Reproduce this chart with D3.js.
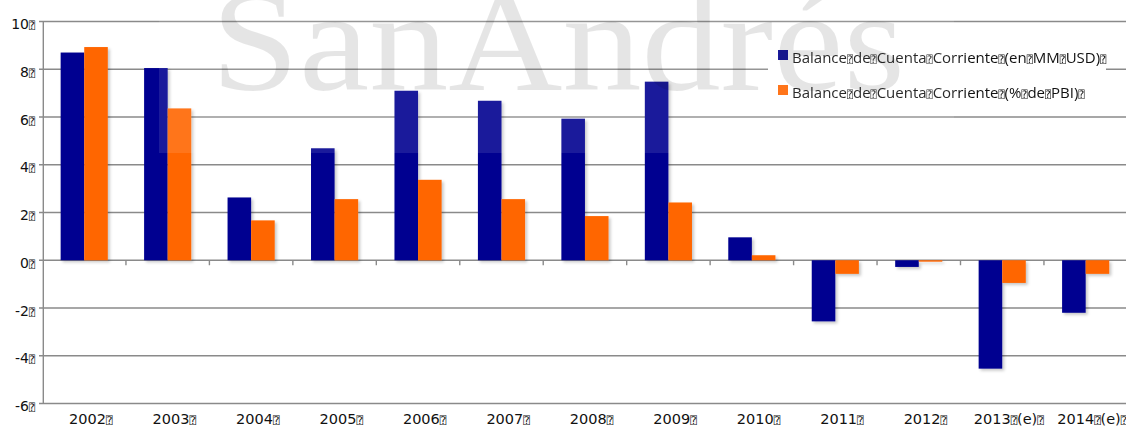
<!DOCTYPE html>
<html>
<head>
<meta charset="utf-8">
<script src="https://cdn.jsdelivr.net/npm/d3@7"></script>
<style>
  html, body { margin: 0; padding: 0; background: #fff; }
  svg { display: block; }
</style>
</head>
<body>
<svg id="chart" width="1126" height="437"></svg>
<script>
// Current account balance, Argentina 2002–2014
const categories = ["2002", "2003", "2004", "2005", "2006", "2007", "2008", "2009", "2010", "2011", "2012", "2013 (e)", "2014 (e)"];
const balanceUSD = [8.70, 8.05, 2.63, 4.69, 7.10, 6.68, 5.93, 7.48, 0.96, -2.56, -0.28, -4.54, -2.20];
const balancePBI = [8.93, 6.36, 1.67, 2.56, 3.37, 2.56, 1.85, 2.42, 0.21, -0.57, -0.06, -0.95, -0.57];
const seriesNames = ["Balance de Cuenta Corriente (en MM USD)", "Balance de Cuenta Corriente (% de PBI)"];
const seriesColors = ["#000090", "#ff6600"];
const yTicks = [-6, -4, -2, 0, 2, 4, 6, 8, 10];

const BOX = "\u2370"; // glyph shown in place of the separators

const svg = d3.select("#chart");
const W = 1126, H = 437;

const defs = svg.append("defs");
const sh = defs.append("filter").attr("id", "shadow")
  .attr("x", "-20%").attr("y", "-20%").attr("width", "150%").attr("height", "150%");
sh.append("feDropShadow").attr("dx", 2).attr("dy", 2).attr("stdDeviation", 1.5)
  .attr("flood-color", "#000").attr("flood-opacity", 0.22);

const y = d3.scaleLinear().domain([-6, 10]).range([403.5, 21.5]);
const x0 = d3.scaleBand().domain(categories).range([42.5, 1127.4]).paddingInner(0).paddingOuter(0);
const x1 = d3.scaleBand().domain([0, 1]).range([0, x0.bandwidth()]).paddingInner(0).paddingOuter(0.77);

const gridColor = "#8a8a8a";

// writes a label, swapping each space for the box glyph and adding a trailing one
function boxedText(sel, str, size) {
  const parts = str.split(" ");
  parts.forEach(p => {
    sel.append("tspan").text(p);
    sel.append("tspan").attr("font-size", size).attr("font-family", "DejaVu Sans Mono").text(BOX);
  });
}

// horizontal gridlines
svg.append("g").selectAll("line").data(yTicks).join("line")
  .attr("x1", 39).attr("x2", W)
  .attr("y1", d => y(d)).attr("y2", d => y(d))
  .attr("stroke", gridColor).attr("stroke-width", 1.4);

// y axis line
svg.append("line").attr("x1", 43.3).attr("x2", 43.3)
  .attr("y1", y(10)).attr("y2", y(-6))
  .attr("stroke", gridColor).attr("stroke-width", 1.4);

// category ticks below the zero line
svg.append("g").selectAll("line").data(categories.slice(1)).join("line")
  .attr("x1", d => x0(d)).attr("x2", d => x0(d))
  .attr("y1", y(0)).attr("y2", y(0) + 5)
  .attr("stroke", gridColor).attr("stroke-width", 1.4);

// y tick labels
svg.append("g").selectAll("text").data(yTicks).join("text")
  .attr("x", 35).attr("y", d => y(d) + 7.5)
  .attr("text-anchor", "end")
  .attr("font-family", "DejaVu Sans").attr("font-size", 14).attr("fill", "#111")
  .each(function (d) { boxedText(d3.select(this), String(d), 10); });

// x tick labels
svg.append("g").selectAll("text").data(categories).join("text")
  .attr("x", d => x0(d) + x0.bandwidth() / 2 + 6.5).attr("y", 423.5)
  .attr("text-anchor", "middle")
  .attr("font-family", "DejaVu Sans").attr("font-size", 14.5).attr("fill", "#111")
  .each(function (d) { boxedText(d3.select(this), d, 10.5); });

// bars
const rows = categories.map((c, i) => ({ cat: c, vals: [balanceUSD[i], balancePBI[i]] }));
svg.append("g").attr("filter", "url(#shadow)")
  .selectAll("g").data(rows).join("g")
  .attr("transform", d => `translate(${x0(d.cat)},0)`)
  .selectAll("rect").data(d => d.vals.map((v, k) => ({ v, k }))).join("rect")
  .attr("x", d => x1(d.k))
  .attr("width", x1.bandwidth())
  .attr("y", d => y(Math.max(0, d.v)))
  .attr("height", d => Math.abs(y(d.v) - y(0)))
  .attr("fill", d => seriesColors[d.k]);

// legend
const lg = svg.append("g");
lg.append("rect").attr("x", 768).attr("y", 34).attr("width", 338).attr("height", 74).attr("fill", "#fff");
seriesNames.forEach((name, i) => {
  const yy = 50 + i * 35;
  lg.append("rect").attr("x", 778).attr("y", yy).attr("width", 10).attr("height", 10).attr("fill", seriesColors[i]);
  const t = lg.append("text").attr("x", 792).attr("y", yy + 12.5)
    .attr("font-family", "Open Sans").attr("font-size", 15).attr("fill", "#111");
  boxedText(t, name, 10);
});

// institution watermark
svg.append("rect").attr("x", 159).attr("y", 0).attr("width", 795).attr("height", 153)
  .attr("fill", "#fff").attr("fill-opacity", 0.1);
svg.append("text").attr("x", 211).attr("y", 90)
  .attr("font-family", "Liberation Serif").attr("font-size", 145)
  .attr("textLength", 694).attr("lengthAdjust", "spacingAndGlyphs")
  .attr("fill", "#000").attr("fill-opacity", 0.1)
  .text("SanAndrés");
</script>
</body>
</html>
